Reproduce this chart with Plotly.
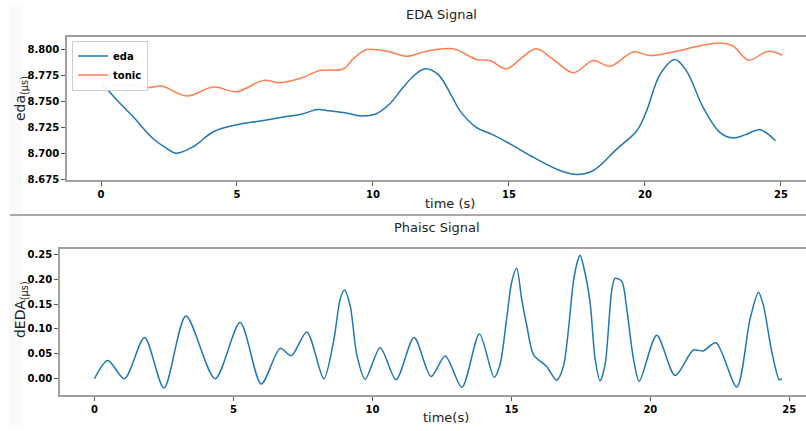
import plotly.graph_objects as go

# ---- data ----
eda_t = [0, 0.6, 1.19, 1.92, 2.4, 2.76, 3.39, 4.13, 4.99, 5.8, 6.7, 7.4, 7.95, 8.4, 9.0,
         9.55, 10.1, 10.6, 11.1, 11.5, 11.92, 12.4, 12.9, 13.2, 13.8, 14.4, 15.04, 15.9,
         16.87, 17.49, 18.1, 18.96, 19.7, 20.06, 20.55, 21.1, 21.53, 22.14, 22.76, 23.25,
         23.7, 24.23, 24.8]
eda_v = [8.769, 8.751, 8.735, 8.714, 8.705, 8.700, 8.7063, 8.7208, 8.7275, 8.731, 8.735,
         8.738, 8.7423, 8.741, 8.739, 8.736, 8.738, 8.7474, 8.7635, 8.775, 8.7817, 8.776,
         8.755, 8.741, 8.725, 8.718, 8.709, 8.696, 8.6833, 8.6794, 8.6833, 8.704, 8.7217,
         8.741, 8.776, 8.7907, 8.7794, 8.7442, 8.720, 8.7147, 8.718, 8.7227, 8.7121]

tonic_t = [0, 0.94, 1.74, 2.23, 3.15, 4.13, 4.99, 5.97, 6.58, 7.4, 8.05, 8.9, 9.3, 9.77,
           10.62, 11.24, 11.97, 12.95, 13.81, 14.3, 14.91, 15.45, 16.0, 16.63, 17.37, 18.1,
           18.71, 19.57, 20.18, 21.16, 22.02, 22.76, 23.25, 23.8, 24.53, 25.05]
tonic_v = [8.7635, 8.7666, 8.7635, 8.765, 8.7554, 8.764, 8.7596, 8.7705, 8.7683, 8.773,
           8.780, 8.7815, 8.792, 8.8003, 8.798, 8.7939, 8.7987, 8.801, 8.7907, 8.7897,
           8.7817, 8.792, 8.801, 8.7907, 8.7779, 8.7897, 8.7842, 8.798, 8.7945, 8.7987,
           8.8041, 8.8067, 8.8035, 8.790, 8.7987, 8.7948]

phasic_t = [0, 0.48, 1.08, 1.8, 2.5, 3.29, 4.34, 5.24, 6.0, 6.68, 7.08, 7.64, 8.25, 8.6,
            8.84, 8.99, 9.2, 9.44, 9.74, 10.28, 10.85, 11.5, 12.11, 12.62, 13.22, 13.85,
            14.38, 14.59, 14.83, 15.01, 15.19, 15.37, 15.55, 15.8, 16.27, 16.63, 16.87,
            17.23, 17.35, 17.47, 17.59, 17.83, 18.01, 18.19, 18.37, 18.61, 18.73, 18.97,
            19.15, 19.39, 19.6, 20.23, 20.89, 21.55, 21.9, 22.36, 23.11, 23.59, 23.89,
            24.07, 24.37, 24.64, 24.73]
phasic_v = [0.0, 0.0365, 0.0, 0.083, -0.0187, 0.126, 0.0, 0.1128, -0.0107, 0.061, 0.0464,
            0.094, 0.0, 0.074, 0.16, 0.1785, 0.147, 0.048, -0.001, 0.0624, -0.002, 0.083,
            0.0046, 0.0458, -0.0173, 0.090, 0.0026, 0.028, 0.1207, 0.194, 0.222, 0.1606,
            0.108, 0.048, 0.0245, -0.003, 0.0245, 0.194, 0.230, 0.248, 0.227, 0.154, 0.041,
            -0.004, 0.028, 0.177, 0.2018, 0.196, 0.1407, 0.041, -0.005, 0.0876, 0.0066,
            0.0578, 0.0558, 0.0723, -0.0167, 0.1207, 0.174, 0.147, 0.054, -0.002, 0.0]

top_yticks = [8.675, 8.700, 8.725, 8.750, 8.775, 8.800]
bot_yticks = [0.00, 0.05, 0.10, 0.15, 0.20, 0.25]
x_ticks = [0, 5, 10, 15, 20, 25]

W, H = 806, 431
BLUE = "#1f77b4"
ORANGE = "#ff7f50"
SPINE = "#a0a0a0"
FONT = "DejaVu Sans"

fig = go.Figure()
fig.add_trace(go.Scatter(x=eda_t, y=eda_v, mode="lines", name="eda",
                         line=dict(color=BLUE, width=1.5, shape="spline", smoothing=1),
                         xaxis="x", yaxis="y"))
fig.add_trace(go.Scatter(x=tonic_t, y=tonic_v, mode="lines", name="tonic",
                         line=dict(color=ORANGE, width=1.5, shape="spline", smoothing=1),
                         xaxis="x", yaxis="y"))
fig.add_trace(go.Scatter(x=phasic_t, y=phasic_v, mode="lines", name="phasic",
                         showlegend=False,
                         line=dict(color=BLUE, width=1.5, shape="spline", smoothing=0.8),
                         xaxis="x2", yaxis="y2"))

tickfont = dict(family=FONT, size=10, color="black", weight="bold")
common_x = dict(showline=True, linecolor=SPINE, linewidth=1.5, mirror=True,
                ticks="outside", ticklen=4, tickcolor="#555", tickwidth=1,
                showgrid=False, zeroline=False, tickfont=tickfont, tickvals=x_ticks)
common_y = dict(showline=True, linecolor=SPINE, linewidth=1.5, mirror=False,
                ticks="outside", ticklen=4, tickcolor="#555", tickwidth=1,
                showgrid=False, zeroline=False, tickfont=tickfont)

def fx(px):
    return px / W

def fy(py):
    return 1 - py / H

fig.update_layout(
    width=W, height=H, margin=dict(l=0, r=0, t=0, b=0),
    paper_bgcolor="white", plot_bgcolor="white",
    xaxis=dict(domain=[fx(67), 1], range=[-1.25, 25.92], anchor="y", **common_x),
    yaxis=dict(domain=[fy(182), fy(37)], range=[8.6738, 8.8128], anchor="x",
               tickvals=top_yticks, tickformat=".3f", **common_y),
    xaxis2=dict(domain=[fx(60), 1], range=[-1.24, 25.6], anchor="y2", **common_x),
    yaxis2=dict(domain=[fy(398.7), fy(251)], range=[-0.0327, 0.2614], anchor="x2",
                tickvals=bot_yticks, tickformat=".2f", **common_y),
    showlegend=True,
    legend=dict(x=fx(72), y=fy(41), xanchor="left", yanchor="top",
                bgcolor="rgba(255,255,255,0.9)", bordercolor="#cccccc", borderwidth=1,
                font=dict(family=FONT, size=10, color="black", weight="bold"),
                itemwidth=30, tracegroupgap=0),
)

ann_font = dict(family=FONT, size=13, color="#222")
lab_font = dict(family=FONT, size=14, color="#222")
anns = [
    dict(text="EDA Signal", x=fx(441), y=fy(15), font=ann_font),
    dict(text="Phaisc Signal", x=fx(437), y=fy(230), font=ann_font),
    dict(text="time (s)", x=fx(450), y=fy(205), font=ann_font),
    dict(text="time(s)", x=fx(446), y=fy(421), font=ann_font),
    dict(text="eda<sub>(μs)</sub>", x=fx(21), y=fy(100), textangle=-90, font=lab_font),
    dict(text="dEDA<sub>(μs)</sub>", x=fx(21), y=fy(313), textangle=-90, font=lab_font),
]
for a in anns:
    fig.add_annotation(xref="paper", yref="paper", showarrow=False,
                       xanchor="center", yanchor="middle", **a)

# separator line between the two panels and faint left band
fig.add_shape(type="line", xref="paper", yref="paper", x0=fx(10), x1=1,
              y0=fy(217), y1=fy(217), line=dict(color="#aaaaaa", width=2))
fig.add_shape(type="rect", xref="paper", yref="paper", x0=fx(9), x1=fx(22),
              y0=0, y1=fy(5), fillcolor="rgba(0,0,0,0.025)", line=dict(width=0),
              layer="below")

fig.write_html("out.html")
